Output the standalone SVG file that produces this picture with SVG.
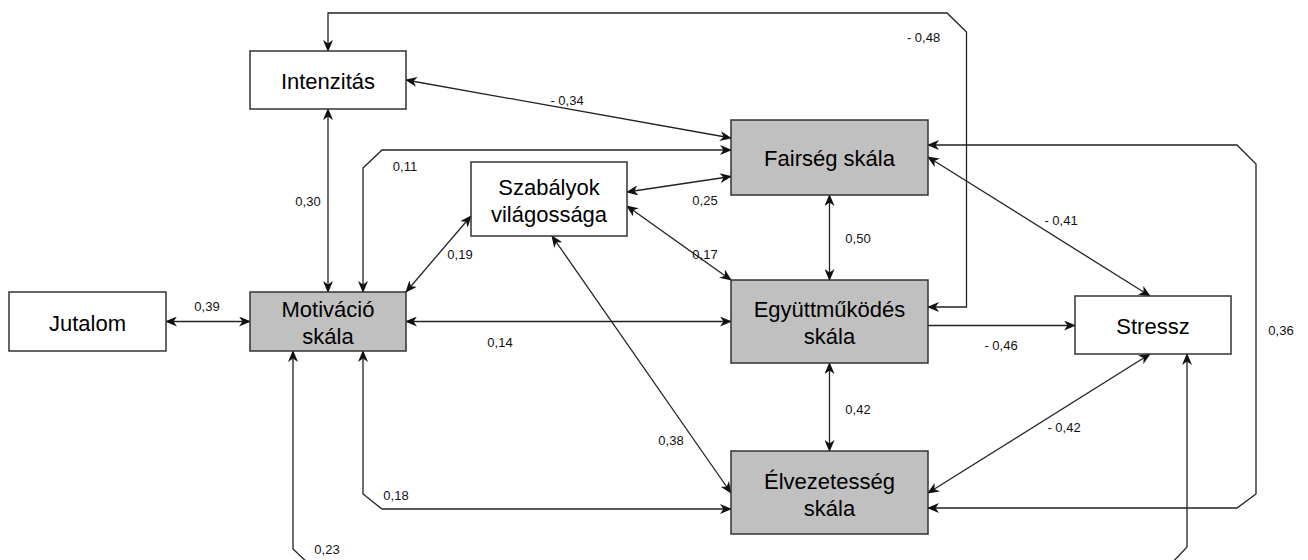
<svg xmlns="http://www.w3.org/2000/svg" width="1308" height="560" viewBox="0 0 1308 560">
<defs>
<marker id="ah" viewBox="0 0 12 10" refX="11" refY="5" markerWidth="12" markerHeight="10" markerUnits="userSpaceOnUse" orient="auto-start-reverse">
<path d="M0,0 L12,5 L0,10 L3.5,5 Z" fill="#111"/>
</marker>
<style>
.box{stroke:#333;stroke-width:1.5}
.w{fill:#fff}
.g{fill:#c0c0c0}
.nt{font-family:"Liberation Sans",Arial,sans-serif;font-size:22px;fill:#000;text-anchor:middle}
.el{font-family:"Liberation Sans",Arial,sans-serif;font-size:13px;fill:#111;text-anchor:middle}
.c{fill:none;stroke:#222;stroke-width:1.3}
.b{marker-start:url(#ah);marker-end:url(#ah)}
.e{marker-end:url(#ah)}
</style>
</defs>
<rect width="1308" height="560" fill="#fff"/>

<g id="connectors">
<!-- Jutalom - Motivacio -->
<path class="c b" d="M166,321.5 L250,321.5"/>
<!-- Intenzitas - Motivacio -->
<path class="c b" d="M328,109 L328,292"/>
<!-- Intenzitas - Fairseg -->
<path class="c b" d="M406,80 L731,138"/>
<!-- Intenzitas - Egyuttmukodes (-0,48) -->
<path class="c b" d="M328,51 L328,13 L947,13 L966.5,32 L966.5,307 L928,307"/>
<!-- Fairseg - Motivacio (0,11) -->
<path class="c b" d="M731,150 L382,150 L363,168 L363,292"/>
<!-- Szabalyok - Fairseg -->
<path class="c b" d="M627,192 L731,176.5"/>
<!-- Szabalyok - Egyuttmukodes -->
<path class="c b" d="M627,206 L731,280"/>
<!-- Szabalyok - Motivacio -->
<path class="c b" d="M471,216 L406,292"/>
<!-- Szabalyok - Elvezetesseg -->
<path class="c b" d="M552,236 L731,493"/>
<!-- Fairseg - Egyuttmukodes -->
<path class="c b" d="M829.5,195 L829.5,280"/>
<!-- Egyuttmukodes - Elvezetesseg -->
<path class="c b" d="M829.5,363 L829.5,451"/>
<!-- Motivacio - Egyuttmukodes -->
<path class="c b" d="M406,321.5 L731,321.5"/>
<!-- Egyuttmukodes - Stressz -->
<path class="c e" d="M928,325.5 L1075,325.5"/>
<!-- Fairseg - Stressz -->
<path class="c b" d="M928,157 L1150,296"/>
<!-- Elvezetesseg - Stressz -->
<path class="c b" d="M928,493 L1150,354"/>
<!-- Fairseg - Elvezetesseg (0,36) -->
<path class="c b" d="M928,145 L1237,145 L1256,164 L1256,494 L1237,508 L928,508"/>
<!-- Motivacio - Elvezetesseg (0,18) -->
<path class="c b" d="M363,351 L363,494 L382,509 L731,509"/>
<!-- Motivacio - Stressz (0,23), routed below -->
<path class="c b" d="M293,351 L293,549 L310,565 L1170,565 L1187,547 L1187,354"/>
</g>

<g id="edge-labels">
<text class="el" x="207" y="310.5">0,39</text>
<text class="el" x="567" y="104.5">- 0,34</text>
<text class="el" x="405" y="170.5">0,11</text>
<text class="el" x="308" y="205.5">0,30</text>
<text class="el" x="705" y="204.5">0,25</text>
<text class="el" x="705" y="258.5">0,17</text>
<text class="el" x="460" y="258.5">0,19</text>
<text class="el" x="858" y="242.5">0,50</text>
<text class="el" x="1061" y="224.5">- 0,41</text>
<text class="el" x="923.5" y="41.5">- 0,48</text>
<text class="el" x="500" y="346.5">0,14</text>
<text class="el" x="1001" y="349.5">- 0,46</text>
<text class="el" x="1281" y="334.5">0,36</text>
<text class="el" x="858" y="413.5">0,42</text>
<text class="el" x="1064" y="431.5">- 0,42</text>
<text class="el" x="671" y="444.5">0,38</text>
<text class="el" x="396" y="499.5">0,18</text>
<text class="el" x="327" y="553.5">0,23</text>
</g>

<g id="intenzitas">
<rect class="box w" x="250" y="51" width="156" height="58"/>
<text class="nt" x="328" y="89">Intenzitás</text>
</g>
<g id="jutalom">
<rect class="box w" x="9" y="292" width="157" height="59"/>
<text class="nt" x="87.5" y="330.5">Jutalom</text>
</g>
<g id="motivacio">
<rect class="box g" x="250" y="292" width="156" height="59"/>
<text class="nt" x="328" y="317">Motiváció</text>
<text class="nt" x="328" y="344">skála</text>
</g>
<g id="szabalyok">
<rect class="box w" x="471" y="162" width="156" height="74"/>
<text class="nt" x="549" y="195">Szabályok</text>
<text class="nt" x="549" y="222">világossága</text>
</g>
<g id="fairseg">
<rect class="box g" x="731" y="120" width="197" height="75"/>
<text class="nt" x="829.5" y="166">Fairség skála</text>
</g>
<g id="egyuttmukodes">
<rect class="box g" x="731" y="280" width="197" height="83"/>
<text class="nt" x="829.5" y="317">Együttműködés</text>
<text class="nt" x="829.5" y="344">skála</text>
</g>
<g id="elvezetesseg">
<rect class="box g" x="731" y="451" width="197" height="83"/>
<text class="nt" x="829.5" y="489">Élvezetesség</text>
<text class="nt" x="829.5" y="516">skála</text>
</g>
<g id="stressz">
<rect class="box w" x="1075" y="296" width="156" height="58"/>
<text class="nt" x="1153" y="334">Stressz</text>
</g>
</svg>
